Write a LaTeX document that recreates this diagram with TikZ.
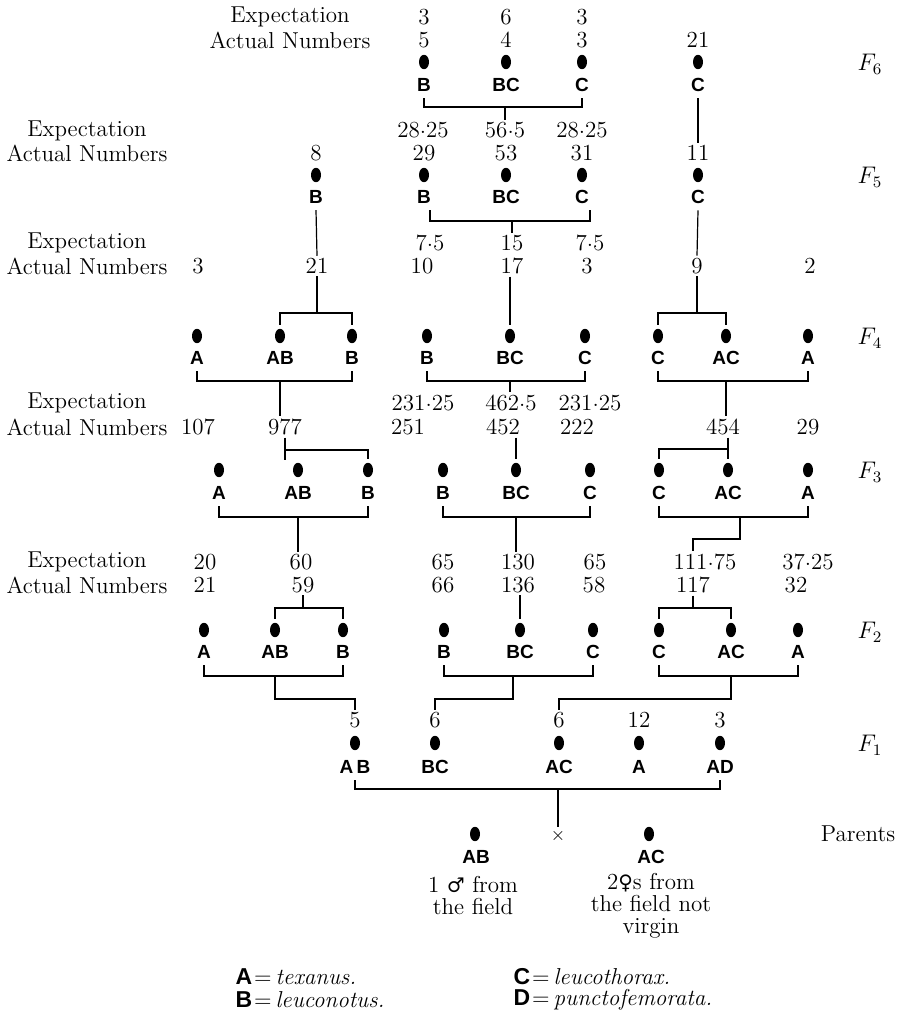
\documentclass[tikz,border=0pt]{standalone}
\usepackage{fontspec}
\usepackage{tikz}
\usetikzlibrary{positioning,shapes.geometric}
\newfontfamily\gothic{Liberation Sans}
\newfontfamily\symf{DejaVu Serif}
\newcommand\decpt{\raisebox{0.38ex}{.}}
\tikzset{
  dot/.style={ellipse,fill=black,minimum width=5pt,minimum height=7.2pt,inner sep=0pt,outer sep=2pt},
  gen/.style={font=\gothic\bfseries\fontsize{9.5}{11}\selectfont,inner sep=3pt},
  num/.style={font=\fontsize{11.5}{13}\selectfont,inner sep=1pt},
  lbl/.style={font=\fontsize{11.5}{11}\selectfont,align=center,inner sep=1pt},
  flab/.style={font=\fontsize{12}{14}\selectfont,inner sep=1pt},
}

\begin{document}
\begin{tikzpicture}[x=0.5pt,y=-0.5pt,line width=0.6pt]
  \useasboundingbox (0,0) rectangle (899,1017);
  % F6
  \node[lbl] (exp6) at (290,17) {Expectation};
  \node[lbl] (act6) at (290,40) {Actual Numbers};
  \foreach \n/\x/\t in {a/424/3, b/506/6, c/582/3}
    \node[num] (e6\n) at (\x,17) {\t};
  \foreach \n/\x/\t/\g in {a/424/5/B, b/506/4/BC, c/582/3/C, d/698/21/C} {
    \node[num] (a6\n) at (\x,40) {\t};
    \node[dot] (d6\n) at (\x,62) {};
    \node[gen] (g6\n) at (\x,85) {\g};
  }
  \node[flab] (f6) at (870,64) {$F_6$};
  % F5
  \node[lbl] (exp5) at (87,131) {Expectation};
  \node[lbl] (act5) at (87,153) {Actual Numbers};
  \foreach \n/\x/\t in {a/423/28\decpt 25, b/505/56\decpt 5, c/582/28\decpt 25}
    \node[num] (e5\n) at (\x,130) {\t};
  \foreach \n/\x/\t/\g in {a/316/8/B, b/424/29/B, c/506/53/BC, d/582/31/C, e/698/11/C} {
    \node[num] (a5\n) at (\x,153) {\t};
    \node[dot] (d5\n) at (\x,175) {};
    \node[gen] (g5\n) at (\x,197) {\g};
  }
  \node[flab] (f5) at (870,177) {$F_5$};
  % F4
  \node[lbl] (exp4) at (87,243) {Expectation};
  \node[lbl] (act4) at (87,266) {Actual Numbers};
  \foreach \n/\x/\t in {a/430/7\decpt 5, b/512/15, c/590/7\decpt 5}
    \node[num] (e4\n) at (\x,243) {\t};
  \foreach \n/\x/\t in {a/198/3, b/317/21, c/422/10, d/512/17, e/587/3, f/697/9, g/810/2}
    \node[num] (a4\n) at (\x,266) {\t};
  \foreach \n/\x/\g in {a/197/A, b/280/AB, c/352/B, d/427/B, e/510/BC, f/585/C, g/658/C, h/726/AC, i/808/A} {
    \node[dot] (d4\n) at (\x,336) {};
    \node[gen] (g4\n) at (\x,358) {\g};
  }
  \node[flab] (f4) at (870,338) {$F_4$};
  % F3
  \node[lbl] (exp3) at (87,403) {Expectation};
  \node[lbl] (act3) at (87,427) {Actual Numbers};
  \foreach \n/\x/\t in {a/423/231\decpt 25, b/511/462\decpt 5, c/590/231\decpt 25}
    \node[num] (e3\n) at (\x,403) {\t};
  \foreach \n/\x/\t in {a/198/107, b/285/977, c/408/251, d/503/452, e/577/222, f/723/454, g/808/29}
    \node[num] (a3\n) at (\x,427) {\t};
  \foreach \n/\x/\g in {a/219/A, b/298/AB, c/368/B, d/443/B, e/516/BC, f/590/C, g/659/C, h/728/AC, i/808/A} {
    \node[dot] (d3\n) at (\x,470) {};
    \node[gen] (g3\n) at (\x,493) {\g};
  }
  \node[flab] (f3) at (870,472) {$F_3$};
  % F2
  \node[lbl] (exp2) at (87,562) {Expectation};
  \node[lbl] (act2) at (87,585) {Actual Numbers};
  \foreach \n/\x/\t in {a/205/20, b/301/60, c/443/65, d/518/130, e/595/65, f/705/111\decpt 75, g/808/37\decpt 25}
    \node[num] (e2\n) at (\x,562) {\t};
  \foreach \n/\x/\t in {a/205/21, b/303/59, c/443/66, d/518/136, e/594/58, f/693/117, g/796/32}
    \node[num] (a2\n) at (\x,585) {\t};
  \foreach \n/\x/\g in {a/204/A, b/275/AB, c/343/B, d/444/B, e/520/BC, f/593/C, g/659/C, h/731/AC, i/798/A} {
    \node[dot] (d2\n) at (\x,630) {};
    \node[gen] (g2\n) at (\x,652) {\g};
  }
  \node[flab] (f2) at (870,632) {$F_2$};
  % F1
  \foreach \n/\x/\t/\g in {a/355/5/A\,B, b/435/6/BC, c/559/6/AC, d/639/12/A, e/720/3/AD} {
    \node[num] (a1\n) at (\x,720) {\t};
    \node[dot] (d1\n) at (\x,743) {};
    \node[gen] (g1\n) at (\x,767) {\g};
  }
  \node[flab] (f1) at (870,745) {$F_1$};
  % parents
  \node[dot] (dpm) at (475,834) {};
  \node[dot] (dpf) at (649,834) {};
  \node[gen] (gpm) at (476,857) {AB};
  \node[gen] (gpf) at (651,857) {AC};
  \node[num,font=\fontsize{9}{10}\selectfont] (cross) at (558,836) {$\times$};
  \node[lbl] (nm) at (473,896) {1 {\symf\fontsize{10}{10}\selectfont ♂} from\\the field};
  \node[lbl] (nf) at (651,906) {2{\symf\fontsize{10}{10}\selectfont ♀}s from\\the field not\\virgin};
  \node[lbl] (par) at (858,834) {Parents};
  % key
  \node[lbl,anchor=west] (ka) at (233,977) {{\gothic\bfseries A}\kern1pt=\kern2pt\textit{texanus.}};
  \node[lbl,anchor=west] (kb) at (233,1000) {{\gothic\bfseries B}\kern1pt=\kern2pt\textit{leuconotus.}};
  \node[lbl,anchor=west] (kc) at (511,977) {{\gothic\bfseries C}\kern1pt=\kern2pt\textit{leucothorax.}};
  \node[lbl,anchor=west] (kd) at (511,1000) {{\gothic\bfseries D}\kern1pt=\kern2pt\textit{punctofemorata.}};

  % F6 -> F5
  \draw (g6a.south) -- (g6a|-0,107) -- (g6c|-0,107) -- (g6c.south);
  \draw (e5b|-0,107) -- (e5b.north);
  \draw (g6d.south) -- (a5e.north);
  % F5 -> F4
  \draw (e4a|-g5b.south) -- (e4a|-0,221) -- (e4c|-0,221) -- (e4c|-g5d.south);
  \draw (e4b|-0,221) -- (e4b.north);
  \draw (g5a.south) -- (a4b.north);
  \draw (g5e.south) -- (a4f.north);
  \draw (a4b.south) -- (a4b|-0,313);
  \draw (d4b.north) -- (d4b|-0,313) -- (d4c|-0,313) -- (d4c.north);
  \draw (d4e|-a4d.south) -- (d4e.north);
  \draw (a4f.south) -- (a4f|-0,313);
  \draw (d4g.north) -- (d4g|-0,313) -- (d4h|-0,313) -- (d4h.north);
  % F4 -> F3
  \draw (g4a.south) -- (g4a|-0,381) -- (g4c|-0,381) -- (g4c.south);
  \draw (g4b|-0,381) -- (g4b|-a3b.north);
  \draw (g4d.south) -- (g4d|-0,381) -- (g4f|-0,381) -- (g4f.south);
  \draw (g4e|-0,381) -- (g4e|-e3b.north);
  \draw (g4g.south) -- (g4g|-0,381) -- (g4i|-0,381) -- (g4i.south);
  \draw (g4h|-0,381) -- (g4h|-a3f.north);
  \draw (a3b.south) -- (a3b|-0,460);
  \draw (a3b|-0,450) -- (d3c|-0,450) -- (d3c.north);
  \draw (d3e|-a3d.south) -- (d3e.north);
  \draw (d3h|-a3f.south) -- (d3h.north);
  \draw (d3g.north) -- (d3g|-0,449) -- (d3h|-0,449);
  % F3 -> F2
  \draw (g3a.south) -- (g3a|-0,517) -- (g3c|-0,517) -- (g3c.south);
  \draw (g3b|-0,517) -- (g3b|-e2b.north);
  \draw (g3d.south) -- (g3d|-0,517) -- (g3f|-0,517) -- (g3f.south);
  \draw (g3e|-0,517) -- (g3e|-e2d.north);
  \draw (g3g.south) -- (g3g|-0,517) -- (g3i|-0,517) -- (g3i.south);
  \coordinate (m3) at (740,517);
  \draw (m3) -- (m3|-0,539) -- (a2f|-0,539) -- (a2f|-e2f.north);
  \draw (a2b.south) -- (a2b|-0,608);
  \draw (d2b.north) -- (d2b|-0,608) -- (d2c|-0,608) -- (d2c.north);
  \draw (d2e|-a2d.south) -- (d2e.north);
  \draw (a2f.south) -- (a2f|-0,608);
  \draw (d2g.north) -- (d2g|-0,608) -- (d2h|-0,608) -- (d2h.north);
  % F2 -> F1
  \draw (g2a.south) -- (g2a|-0,676) -- (g2c|-0,676) -- (g2c.south);
  \draw (g2b|-0,676) -- (g2b|-0,699) -- (a1a|-0,699) -- (a1a.north);
  \draw (g2d.south) -- (g2d|-0,676) -- (g2f|-0,676) -- (g2f.south);
  \coordinate (m2) at (513,676);
  \draw (m2) -- (m2|-0,699) -- (a1b|-0,699) -- (a1b.north);
  \draw (g2g.south) -- (g2g|-0,676) -- (g2i|-0,676) -- (g2i.south);
  \draw (g2h|-0,676) -- (g2h|-0,699) -- (a1c|-0,699) -- (a1c.north);
  % F1 -> parents
  \draw (g1a.south) -- (g1a|-0,789) -- (g1e|-0,789) -- (g1e.south);
  \draw (cross|-0,789) -- (cross.north);
\end{tikzpicture}
\end{document}
